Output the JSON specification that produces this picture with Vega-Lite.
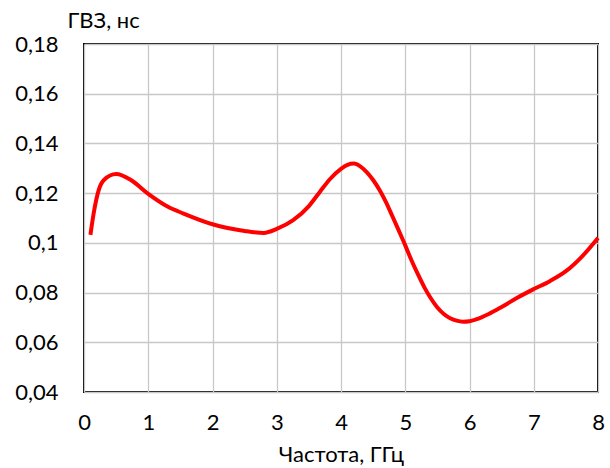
{
  "$schema": "https://vega.github.io/schema/vega-lite/v6.json",
  "width": 514,
  "height": 348,
  "autosize": {"type": "none"},
  "padding": {"left": 84, "top": 44, "right": 12, "bottom": 76},
  "background": "white",
  "config": {
    "view": {"stroke": "black", "strokeWidth": 2},
    "font": "Lato",
    "axis": {"labelFont": "Lato", "titleFont": "Lato", "labelColor": "black", "titleColor": "black", "labelFontSize": 22, "titleFontSize": 22, "titleFontWeight": "normal", "gridColor": "#c8c8c8", "gridWidth": 1.3, "domain": false, "ticks": false}
  },
  "data": {"values": [
    {"f": 0.1, "g": 0.1032},
    {"f": 0.15, "g": 0.1118},
    {"f": 0.23, "g": 0.1213},
    {"f": 0.31, "g": 0.1253},
    {"f": 0.5, "g": 0.1277},
    {"f": 0.73, "g": 0.1253},
    {"f": 1.0, "g": 0.1197},
    {"f": 1.3, "g": 0.1146},
    {"f": 1.55, "g": 0.1118},
    {"f": 2.0, "g": 0.1075},
    {"f": 2.5, "g": 0.1048},
    {"f": 2.8, "g": 0.104},
    {"f": 3.0, "g": 0.1056},
    {"f": 3.25, "g": 0.109},
    {"f": 3.5, "g": 0.1148},
    {"f": 3.67, "g": 0.1205},
    {"f": 3.83, "g": 0.1257},
    {"f": 4.0, "g": 0.1298},
    {"f": 4.1, "g": 0.1314},
    {"f": 4.2, "g": 0.1319},
    {"f": 4.3, "g": 0.1308},
    {"f": 4.4, "g": 0.1285},
    {"f": 4.5, "g": 0.1253},
    {"f": 4.6, "g": 0.1213},
    {"f": 4.7, "g": 0.1164},
    {"f": 4.8, "g": 0.1107},
    {"f": 4.9, "g": 0.1049},
    {"f": 5.0, "g": 0.099},
    {"f": 5.1, "g": 0.0928},
    {"f": 5.2, "g": 0.0872},
    {"f": 5.3, "g": 0.082},
    {"f": 5.4, "g": 0.0776},
    {"f": 5.5, "g": 0.074},
    {"f": 5.6, "g": 0.0714},
    {"f": 5.7, "g": 0.0697},
    {"f": 5.8, "g": 0.0687},
    {"f": 5.9, "g": 0.0683},
    {"f": 6.0, "g": 0.0685},
    {"f": 6.1, "g": 0.0692},
    {"f": 6.3, "g": 0.0714},
    {"f": 6.5, "g": 0.0742},
    {"f": 6.75, "g": 0.078},
    {"f": 7.0, "g": 0.0814},
    {"f": 7.25, "g": 0.0846},
    {"f": 7.5, "g": 0.0886},
    {"f": 7.75, "g": 0.0945},
    {"f": 8.0, "g": 0.102}
  ]},
  "mark": {"type": "line", "color": "#ff0000", "strokeWidth": 4, "interpolate": "monotone"},
  "encoding": {
    "x": {"field": "f", "type": "quantitative", "scale": {"domain": [0, 8], "nice": false},
      "axis": {"title": "Частота, ГГц", "values": [0,1,2,3,4,5,6,7,8], "labelPadding": 20, "titleBaseline": "alphabetic", "titleY": 69, "labelFlush": false}},
    "y": {"field": "g", "type": "quantitative", "scale": {"domain": [0.04, 0.18], "nice": false, "zero": false},
      "axis": {"title": "ГВЗ, нс", "values": [0.04,0.06,0.08,0.1,0.12,0.14,0.16,0.18], "labelExpr": "replace(format(datum.value, '.2~f'), '.', ',')", "labelPadding": 26, "titleAngle": 0, "titleAlign": "left", "titleBaseline": "alphabetic", "titleX": -17, "titleY": -17, "labelFlush": false}}
  }
}
